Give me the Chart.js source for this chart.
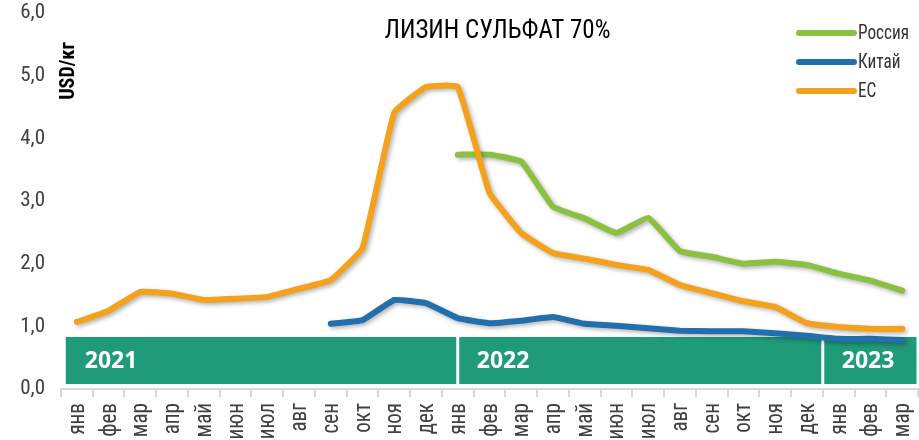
<!DOCTYPE html>
<html lang="ru">
<head>
    <meta charset="UTF-8" />
    <title>Лизин сульфат 70%</title>
    <script src="https://cdn.jsdelivr.net/npm/chart.js"></script>
    <style>
        body { margin: 0; background: #fff; }
        #chartContainer { width: 919px; height: 440px; }
    </style>
</head>
<body>

<div id="chartContainer">
    <canvas id="myChart"></canvas>
</div>

<script>
    // month labels, Jan 2021 .. Mar 2023
    const months = [
        'янв','фев','мар','апр','май','июн','июл','авг','сен','окт','ноя','дек',
        'янв','фев','мар','апр','май','июн','июл','авг','сен','окт','ноя','дек',
        'янв','фев','мар'
    ];

    // USD/кг
    const russia = [
        null, null, null, null, null, null, null, null, null, null, null, null,
        3.74, 3.74, 3.63, 2.91, 2.72, 2.49, 2.73, 2.20, 2.11, 2.00, 2.03, 1.98,
        1.84, 1.73, 1.57
    ];
    const china = [
        null, null, null, null, null, null, null, null, 1.04, 1.10, 1.42, 1.37,
        1.13, 1.05, 1.09, 1.15, 1.04, 1.01, 0.97, 0.93, 0.92, 0.92, 0.89, 0.85,
        0.80, 0.80, 0.78
    ];
    const eu = [
        1.07, 1.25, 1.55, 1.52, 1.42, 1.44, 1.47, 1.60, 1.74, 2.25, 4.41, 4.82,
        4.82, 3.13, 2.49, 2.17, 2.08, 1.98, 1.90, 1.66, 1.53, 1.40, 1.31, 1.05,
        0.99, 0.96, 0.96
    ];

    const yTicks = [0, 1, 2, 3, 4, 5, 6];

    // year band: label and where its segment starts (in category units)
    const years = ['2021', '2022', '2023'];
    const yearStarts = [-0.35, 12, 23.5];

    const FONT = "'Roboto Condensed', 'DejaVu Sans Condensed', sans-serif";

    // narrow text helper (the original uses a tighter condensed face)
    function narrowText(ctx, text, x, y, sx) {
        ctx.save();
        ctx.translate(x, y);
        ctx.scale(sx, 1);
        ctx.fillText(text, 0, 0);
        ctx.restore();
    }

    const decorPlugin = {
        id: 'decor',
        beforeDatasetsDraw(chart) {
            const { ctx, scales: { x, y }, chartArea } = chart;
            const top = y.getPixelForValue(0.83);
            const bottom = y.getPixelForValue(0.08);
            const right = chartArea.right;

            ctx.save();
            yearStarts.forEach((start, i) => {
                const x0 = x.getPixelForValue(start);
                const x1 = i < yearStarts.length - 1 ? x.getPixelForValue(yearStarts[i + 1]) : right;
                ctx.fillStyle = '#1f9b7a';
                ctx.fillRect(x0 + (i ? 1.5 : 0), top, x1 - x0 - (i ? 1.5 : 0) - 1.5, bottom - top);
                ctx.fillStyle = '#ffffff';
                ctx.font = "bold 23px 'Open Sans', sans-serif";
                ctx.textBaseline = 'middle';
                ctx.textAlign = 'left';
                ctx.fillText(years[i], x0 + 19, (top + bottom) / 2 + 1);
            });
            ctx.restore();

            // soft shadow under the lines
            ctx.save();
            ctx.shadowColor = 'rgba(0,0,0,0.3)';
            ctx.shadowBlur = 4;
            ctx.shadowOffsetX = 2;
            ctx.shadowOffsetY = 2;
        },
        afterDatasetsDraw(chart) {
            chart.ctx.restore();
        },
        afterDraw(chart) {
            const { ctx, chartArea, scales: { x } } = chart;
            ctx.save();

            // month labels, rotated, reading bottom to top
            ctx.fillStyle = '#404040';
            ctx.font = '24px ' + FONT;
            ctx.textAlign = 'right';
            ctx.textBaseline = 'middle';
            months.forEach((m, i) => {
                ctx.save();
                ctx.translate(x.getPixelForValue(i) + 1, chartArea.bottom + 14);
                ctx.rotate(-Math.PI / 2);
                ctx.scale(0.88, 1);
                ctx.fillText(m, 0, 0);
                ctx.restore();
            });

            // title
            ctx.fillStyle = '#000';
            ctx.font = '25px ' + FONT;
            ctx.textAlign = 'center';
            ctx.textBaseline = 'middle';
            ctx.fillText('ЛИЗИН СУЛЬФАТ 70%', (chartArea.left + chartArea.right) / 2 + 8, 32);

            // unit label
            ctx.save();
            ctx.translate(chartArea.left + 8, 71);
            ctx.rotate(-Math.PI / 2);
            ctx.font = 'bold 20px ' + FONT;
            ctx.fillText('USD/кг', 0, 0);
            ctx.restore();

            // legend
            const lx = chartArea.right - 119;
            chart.data.datasets.forEach((ds, i) => {
                const ly = 33 + i * 29;
                ctx.strokeStyle = ds.borderColor;
                ctx.lineWidth = 6;
                ctx.lineCap = 'round';
                ctx.beginPath();
                ctx.moveTo(lx, ly);
                ctx.lineTo(lx + 55, ly);
                ctx.stroke();
                ctx.fillStyle = '#333';
                ctx.font = '21px ' + FONT;
                ctx.textAlign = 'left';
                narrowText(ctx, ds.label, lx + 59, ly + 1, 0.82);
            });
            ctx.restore();
        }
    };

    document.addEventListener("DOMContentLoaded", function() {
        const ctx = document.getElementById('myChart').getContext('2d');

        const lineStyle = {
            borderWidth: 6,
            pointRadius: 0,
            tension: 0.1,
            fill: false,
            spanGaps: false,
            borderCapStyle: 'round',
            borderJoinStyle: 'round'
        };

        new Chart(ctx, {
            type: 'line',
            data: {
                labels: months,
                datasets: [
                    Object.assign({ label: 'Россия', data: russia, borderColor: '#8cc043', order: 2 }, lineStyle),
                    Object.assign({ label: 'Китай', data: china, borderColor: '#226fab', order: 1 }, lineStyle),
                    Object.assign({ label: 'ЕС', data: eu, borderColor: '#f4a11d', order: 0 }, lineStyle)
                ]
            },
            options: {
                responsive: true,
                maintainAspectRatio: false,
                animation: false,
                layout: { padding: { top: 13, right: 1, left: 0, bottom: 0 } },
                plugins: {
                    legend: { display: false },
                    title: { display: false },
                    tooltip: { enabled: false }
                },
                scales: {
                    x: {
                        type: 'category',
                        offset: true,
                        grid: {
                            offset: true,
                            drawOnChartArea: false,
                            tickLength: 8,
                            color: '#d9d9d9',
                            lineWidth: 2
                        },
                        border: { color: '#d9d9d9', width: 2 },
                        // labels are drawn by the decor plugin
                        ticks: { display: false, autoSkip: false },
                        afterFit(scale) {
                            scale.height = 51;
                            scale.paddingLeft = 0;
                            scale.paddingRight = 0;
                        }
                    },
                    y: {
                        min: yTicks[0],
                        max: yTicks[yTicks.length - 1],
                        afterBuildTicks(scale) { scale.ticks = yTicks.map(v => ({ value: v })); },
                        grid: { display: false },
                        border: { display: false },
                        ticks: {
                            padding: 8,
                            color: '#404040',
                            font: { size: 21, family: FONT },
                            callback: v => v.toFixed(1).replace('.', ',')
                        },
                        afterFit(scale) {
                            scale.width = 61;
                            scale.paddingTop = 0;
                            scale.paddingBottom = 0;
                        }
                    }
                }
            },
            plugins: [decorPlugin]
        });
    });
</script>

</body>
</html>
